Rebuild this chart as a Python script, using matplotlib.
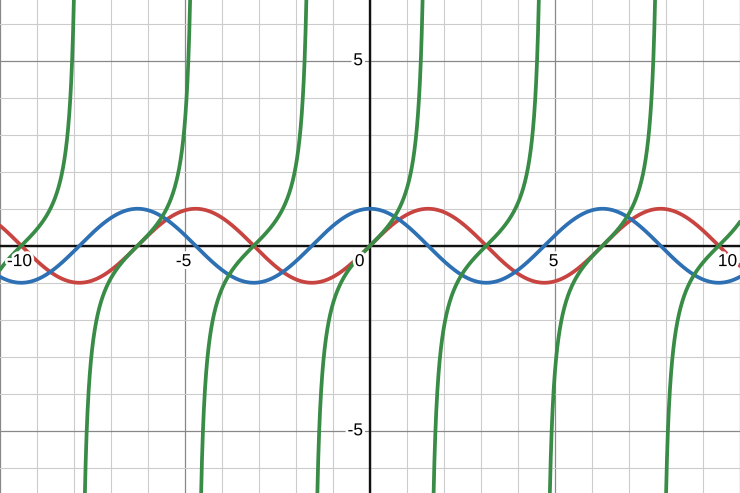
import matplotlib
matplotlib.use("Agg")
import matplotlib.pyplot as plt
import matplotlib.patheffects as pe
import numpy as np

# functions shown on the graph, in drawing order (later ones on top)
func_names = ["sin", "cos", "tan"]
func_colors = ["#c74440", "#2d70b3", "#388c46"]

# tick labels on each axis
x_tick_values = [-10, -5, 0, 5, 10]
x_tick_labels = ["-10", "-5", "0", "5", "10"]
y_tick_values = [5, -5]
y_tick_labels = ["5", "-5"]

x_range = (-10, 10)
y_range = (-6.68, 6.64)

plt.rcParams['font.family'] = ['Liberation Sans', 'DejaVu Sans']

fig = plt.figure(figsize=(7.4, 4.93), dpi=100)
ax = fig.add_axes([0, 0, 1, 1])
ax.set_xlim(*x_range)
ax.set_ylim(*y_range)

# grid: light minor lines every unit, darker major every 5
ax.set_xticks(np.arange(-10, 11, 5))
ax.set_yticks(np.arange(-5, 6, 5))
ax.set_xticks(np.arange(-10, 11, 1), minor=True)
ax.set_yticks(np.arange(-6, 7, 1), minor=True)
ax.grid(which='minor', color='#cccccc', linewidth=0.8)
ax.grid(which='major', color='#888888', linewidth=0.9)
ax.tick_params(which='both', length=0, labelbottom=False, labelleft=False)
for s in ax.spines.values():
    s.set_visible(False)
ax.set_axisbelow(True)

# main axes
ax.axhline(0, color='#111111', linewidth=1.7, zorder=2)
ax.axvline(0, color='#111111', linewidth=1.7, zorder=2)

x = np.linspace(x_range[0], x_range[1], 4001)
for i, (name, col) in enumerate(zip(func_names, func_colors)):
    y = getattr(np, name)(x)
    if name == "tan":
        # break the curve at the asymptotes
        y = np.where(np.abs(y) > 20, np.nan, y)
    ax.plot(x, y, color=col, linewidth=2.7, zorder=3 + i, solid_capstyle='round')

halo = [pe.withStroke(linewidth=4, foreground='white')]

for v, lbl in zip(x_tick_values, x_tick_labels):
    if v == 0:
        ax.annotate(lbl, (0, 0), xytext=(-4, -6), textcoords='offset points',
                    ha='right', va='top', fontsize=12.5, path_effects=halo, zorder=10)
    elif v == x_range[0]:
        ax.annotate(lbl, (v, 0), xytext=(5, -6), textcoords='offset points',
                    ha='left', va='top', fontsize=12.5, path_effects=halo, zorder=10)
    elif v == x_range[1]:
        ax.annotate(lbl, (v, 0), xytext=(-2, -6), textcoords='offset points',
                    ha='right', va='top', fontsize=12.5, path_effects=halo, zorder=10)
    else:
        ax.annotate(lbl, (v, 0), xytext=(-1, -6), textcoords='offset points',
                    ha='center', va='top', fontsize=12.5, path_effects=halo, zorder=10)

for v, lbl in zip(y_tick_values, y_tick_labels):
    ax.annotate(lbl, (0, v), xytext=(-5, 0), textcoords='offset points',
                ha='right', va='center', fontsize=12.5, path_effects=halo, zorder=10)

fig.savefig("out.png", dpi=100, facecolor='white')
